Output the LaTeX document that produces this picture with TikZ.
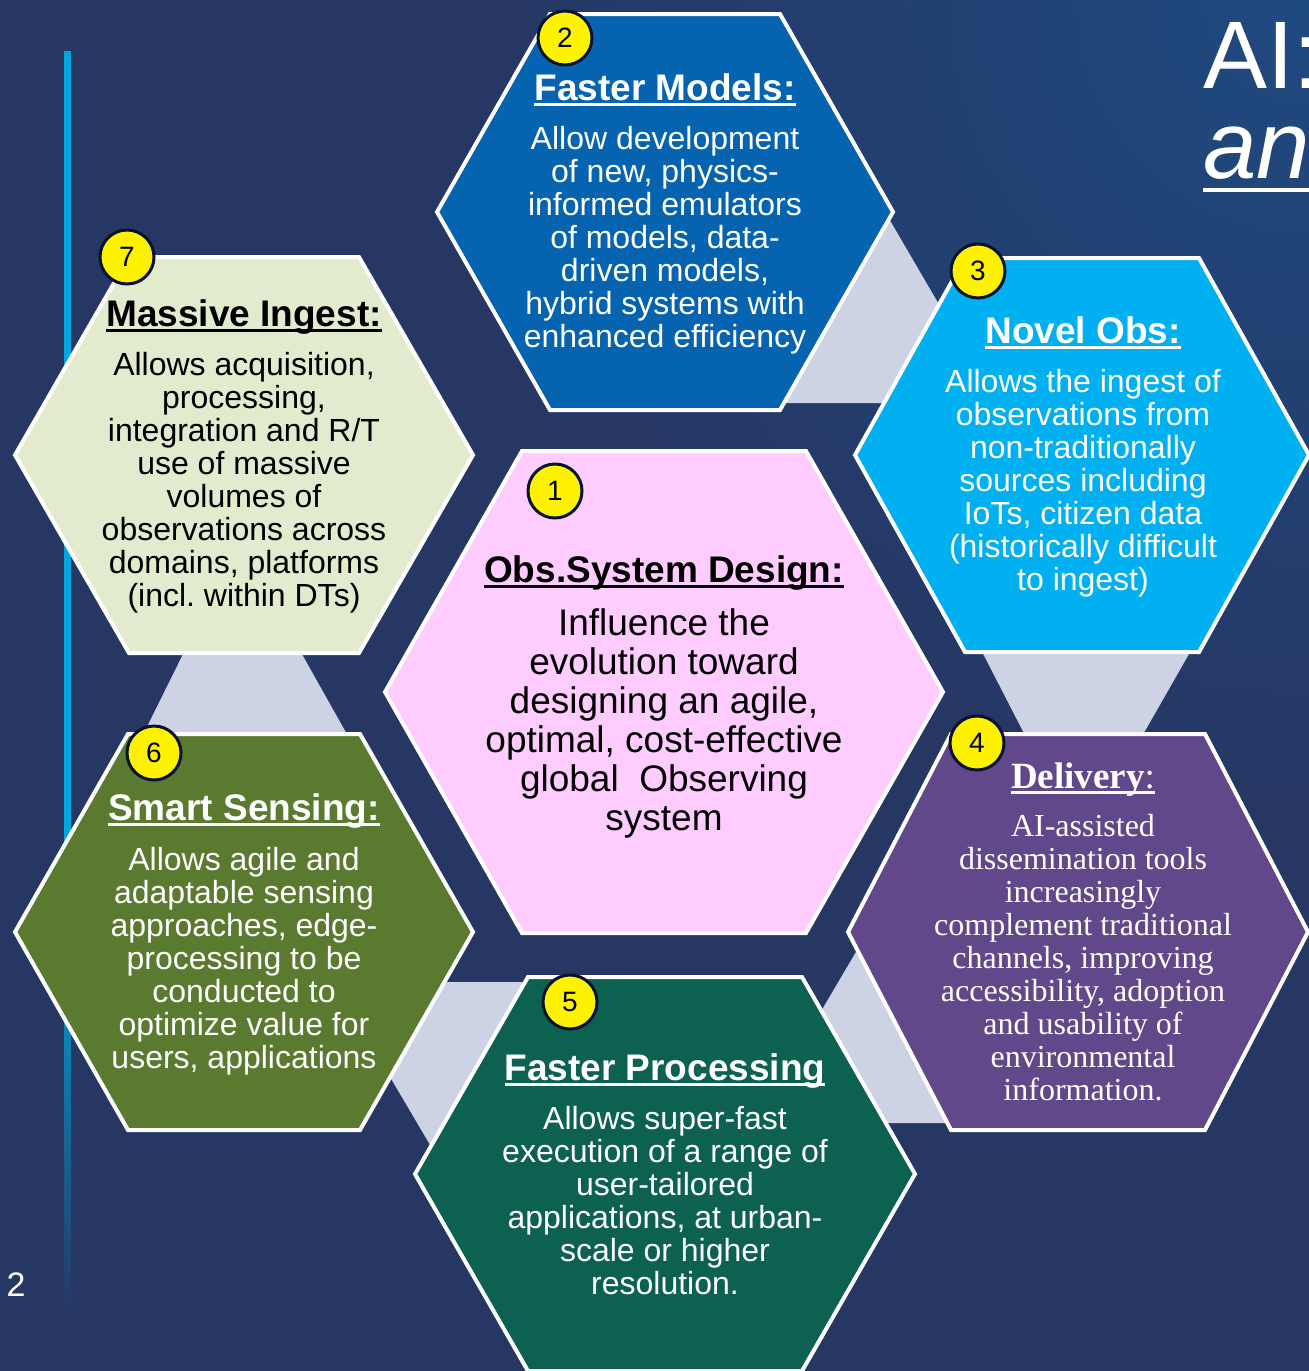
\documentclass[tikz,border=0pt]{standalone}
\usepackage{fontspec}
\setmainfont{Liberation Sans}
\newfontfamily\serifface{Liberation Serif}
\frenchspacing

\definecolor{bgnavy}{HTML}{263764}
\definecolor{bgglow}{HTML}{1F4A80}
\definecolor{accent}{HTML}{00A6DD}
\definecolor{linkgray}{HTML}{CDD3E4}
\definecolor{hexpink}{HTML}{FFCCFF}
\definecolor{hexblue}{HTML}{0563AF}
\definecolor{hexcyan}{HTML}{00B0F0}
\definecolor{hexpale}{HTML}{E2EBCE}
\definecolor{hexolive}{HTML}{5A7A30}
\definecolor{hexteal}{HTML}{0C6150}
\definecolor{hexpurple}{HTML}{61488A}
\definecolor{dotrim}{HTML}{0A1230}

% heading underline at a fixed depth
\newsavebox{\hulbox}
\newcommand{\hul}[1]{\sbox{\hulbox}{#1}\rlap{\rule[-5.6pt]{\wd\hulbox}{2.6pt}}\usebox{\hulbox}}

% cx, cy, half width to tip, half flat edge, half height, fill
\newcommand{\hexcell}[6]{%
  \filldraw[hexedge, fill=#6] (#1-#3,#2) -- (#1-#4,#2-#5) -- (#1+#4,#2-#5)
    -- (#1+#3,#2) -- (#1+#4,#2+#5) -- (#1-#4,#2+#5) -- cycle;}

\begin{document}
\begin{tikzpicture}[
    x=1pt, y=-1pt,
    hexedge/.style={draw=white, line width=4pt, line join=miter},
    link/.style={fill=linkgray},
    head/.style={anchor=base, inner sep=0pt, font=\bfseries\fontsize{37}{40}\selectfont},
    body/.style={anchor=north, inner sep=0pt, align=center, font=\fontsize{32}{33}\selectfont},
    numdot/.style={circle, draw=dotrim, line width=3pt, fill=yellow, minimum size=54pt, inner sep=0pt, font=\fontsize{28}{28}\selectfont}
]

% Slide background
\useasboundingbox (0,0) rectangle (1309,1371);
\fill[bgnavy] (0,0) rectangle (1309,1371);
\shade[inner color=bgglow, outer color=bgnavy] (1309,0) circle (800);

% Left accent bar and page number
\fill[accent] (64,51) rectangle (71,900);
\shade[top color=accent, bottom color=bgnavy] (64,900) rectangle (71,1312);
\node (pageno) [text=white, font=\fontsize{34}{34}\selectfont] at (16,1285) {2};

% Title (runs off the slide)
\node (ttl) [anchor=base west, inner sep=0pt, text=white, font=\fontsize{96}{96}\selectfont] at (1203,88) {AI:};
\node (ttlsub) [anchor=base west, inner sep=0pt, text=white, font=\itshape\fontsize{96}{96}\selectfont] at (1203,178) {\rlap{\rule[-14pt]{140pt}{4pt}}an};

% Grey bands between neighbouring cells
\fill[link] (881,205) -- (948,320) -- (905,403) -- (775,403) -- cycle;
\fill[link] (976,640) -- (1197,640) -- (1137,745) -- (1030,745) -- cycle;
\fill[link] (190,640) -- (294,640) -- (353,745) -- (138,745) -- cycle;
\fill[link] (430,982) -- (545,982) -- (439,1160) -- (380,1060) -- cycle;
\fill[link] (863,940) -- (810,1030) -- (870,1123) -- (965,1123) -- cycle;

% Cells
\hexcell{665}{212}{228}{115}{198}{hexblue}
\hexcell{244}{455}{229}{115}{198}{hexpale}
\hexcell{1082}{455}{227}{117}{197}{hexcyan}
\hexcell{664}{692}{279}{142}{241}{hexpink}
\hexcell{244}{932}{229}{116}{198}{hexolive}
\hexcell{1078}{932}{230}{127}{198}{hexpurple}
\hexcell{665}{1174}{250}{137}{197}{hexteal}

% Cell 2
\node (h2title) [head, text=white] at (665,100) {\hul{Faster Models:}};
\node (h2text) [body, text=white] at (665,126) {Allow development\\of new, physics-\\informed emulators\\of models, data-\\driven models,\\hybrid systems with\\enhanced efficiency};

% Cell 7
\node (h7title) [head, text=black] at (244,326) {\hul{Massive Ingest:}};
\node (h7text) [body, text=black] at (244,352) {Allows acquisition,\\processing,\\integration and R/T\\use of massive\\volumes of\\observations across\\domains, platforms\\(incl. within DTs)};

% Cell 3
\node (h3title) [head, text=white] at (1083,343) {\hul{Novel Obs:}};
\node (h3text) [body, text=white] at (1083,369) {Allows the ingest of\\observations from\\non-traditionally\\sources including\\IoTs, citizen data\\(historically difficult\\to ingest)};

% Cell 1
\node (h1title) [head, text=black] at (664,582) {\hul{Obs.System Design:}};
\node (h1text) [body, text=black, font=\fontsize{37}{39}\selectfont] at (664,608) {Influence the\\evolution toward\\designing an agile,\\optimal, cost-effective\\global~ Observing\\system};

% Cell 6
\node (h6title) [head, text=white] at (244,820) {\hul{Smart Sensing:}};
\node (h6text) [body, text=white] at (244,847) {Allows agile and\\adaptable sensing\\approaches, edge-\\processing to be\\conducted to\\optimize value for\\users, applications};

% Cell 4 (serif)
\node (h4title) [head, text=white, font=\serifface\fontsize{37}{40}\selectfont] at (1083,788) {\hul{\textbf{Delivery}:}};
\node (h4text) [body, text=white, font=\serifface\fontsize{32}{33}\selectfont] at (1083,814) {AI-assisted\\dissemination tools\\increasingly\\complement traditional\\channels, improving\\accessibility, adoption\\and usability of\\environmental\\information.};

% Cell 5
\node (h5title) [head, text=white] at (665,1080) {\hul{Faster Processing}};
\node (h5text) [body, text=white] at (665,1106) {Allows super-fast\\execution of a range of\\user-tailored\\applications, at urban-\\scale or higher\\resolution.};

% Number badges
\node (n1) [numdot] at (555,491) {1};
\node (n2) [numdot] at (565,38) {2};
\node (n3) [numdot] at (978,271) {3};
\node (n4) [numdot] at (977,743) {4};
\node (n5) [numdot] at (570,1002) {5};
\node (n6) [numdot] at (154,753) {6};
\node (n7) [numdot] at (127,257) {7};

\end{tikzpicture}
\end{document}
